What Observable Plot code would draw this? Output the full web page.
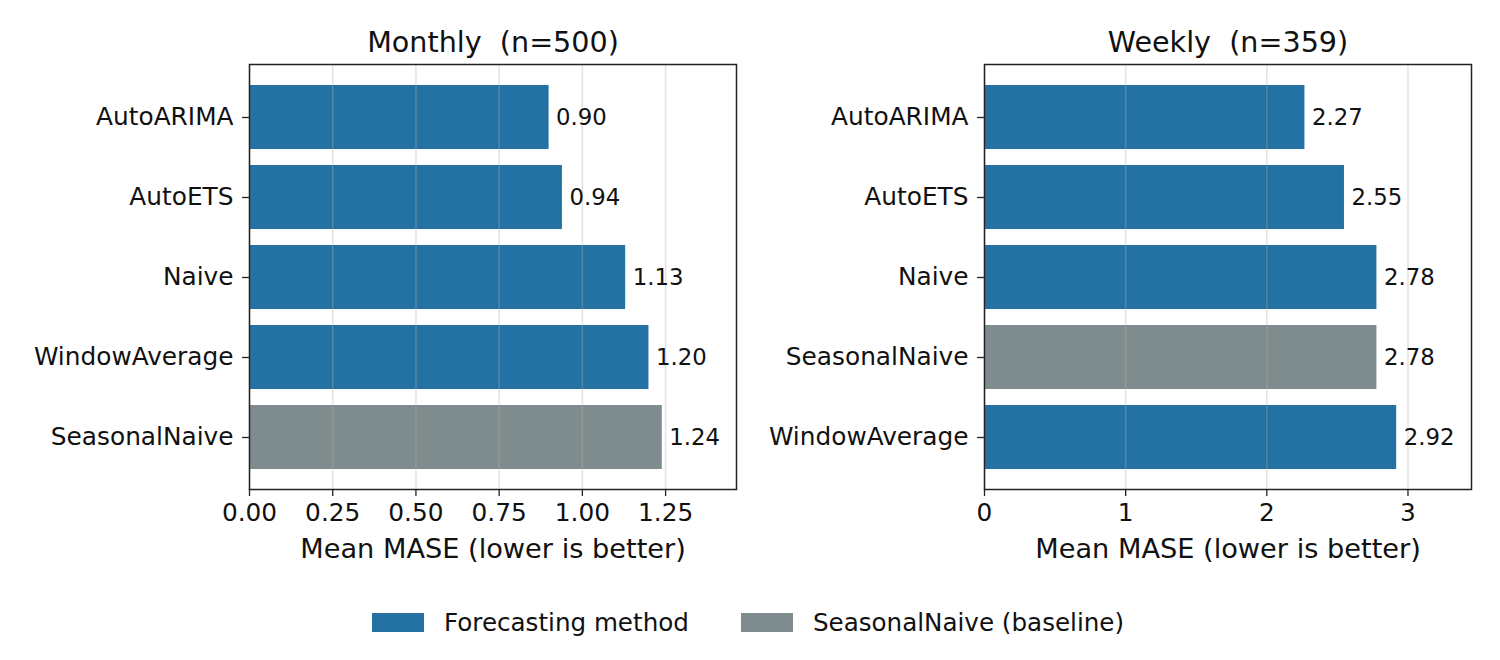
<!DOCTYPE html>
<html>
<head>
<meta charset="utf-8">
<script src="https://cdn.jsdelivr.net/npm/d3@7"></script>
<script src="https://cdn.jsdelivr.net/npm/@observablehq/plot@0.6"></script>
<style>
  html, body { margin: 0; padding: 0; background: #fff; }
  body { width: 1500px; height: 660px; position: relative; font-family: "DejaVu Sans", sans-serif; color: #111; }
  #panels { position: absolute; left: 0; top: 0; display: flex; }
  #panels svg { display: block; }
  #legend { position: absolute; left: 372px; top: 608px; display: flex; align-items: center; font-size: 24.6px; color: #111; }
  .sw { width: 52px; height: 19px; display: inline-block; }
  .item { display: flex; align-items: center; }
</style>
</head>
<body>
<div id="panels"></div>
<div id="legend"></div>
<script>
const monthlyMethods = ["AutoARIMA", "AutoETS", "Naive", "WindowAverage", "SeasonalNaive"];
const monthlyMase = [0.90, 0.94, 1.13, 1.20, 1.24];
const weeklyMethods = ["AutoARIMA", "AutoETS", "Naive", "SeasonalNaive", "WindowAverage"];
const weeklyMase = [2.27, 2.55, 2.78, 2.78, 2.92];
const monthlyTicks = [0, 0.25, 0.5, 0.75, 1.0, 1.25];
const weeklyTicks = [0, 1, 2, 3];
const baseline = "SeasonalNaive";
const panelTitles = ["Monthly\u00a0 (n=500)", "Weekly\u00a0 (n=359)"];
const xLabel = "Mean MASE (lower is better)";
const legendLabels = ["Forecasting method", "SeasonalNaive (baseline)"];
const colors = ["#2471a3", "#7f8c8d"];
const xMax = [1.463, 3.45];

function panel(methods, values, ticks, tickFmt, title, xmax, marginLeft, marginRight) {
  const data = methods.map((m, i) => ({method: m, value: values[i], kind: m === baseline ? legendLabels[1] : legendLabels[0]}));
  return Plot.plot({
    width: 750,
    height: 580,
    marginLeft,
    marginRight,
    marginTop: 64,
    marginBottom: 91,
    style: {fontFamily: "DejaVu Sans, sans-serif", color: "#111", background: "#fff"},
    x: {domain: [0, xmax]},
    y: {domain: methods, paddingInner: 0.2, paddingOuter: 0.23},
    color: {domain: legendLabels, range: colors},
    marks: [
      Plot.barX(data, {x: "value", y: "method", fill: "kind"}),
      Plot.ruleX(ticks, {stroke: "#b0b0b0", strokeOpacity: 0.35, strokeWidth: 1.5}),
      Plot.text(data, {x: "value", y: "method", text: d => d3.format(".2f")(d.value), textAnchor: "start", dx: 7, fontSize: 22.8, fill: "#111"}),
      Plot.frame({stroke: "#222", strokeWidth: 1.5}),
      Plot.axisY({tickSize: 7, tickPadding: 9, fontSize: 24.8, label: null, stroke: "#222", strokeWidth: 1.3}),
      Plot.axisX({ticks, tickFormat: tickFmt, tickSize: 7, tickPadding: 7, fontSize: 24.8, label: null, stroke: "#222", strokeWidth: 1.3}),
      Plot.text([xLabel], {frameAnchor: "bottom", dy: 60, fontSize: 27.2, lineAnchor: "middle", fill: "#111"}),
      Plot.text([title], {frameAnchor: "top", dy: -22, fontSize: 28.6, lineAnchor: "middle", fill: "#111"})
    ]
  });
}

const panels = document.getElementById("panels");
panels.appendChild(panel(monthlyMethods, monthlyMase, monthlyTicks, d3.format(".2f"), panelTitles[0], xMax[0], 249, 14));
panels.appendChild(panel(weeklyMethods, weeklyMase, weeklyTicks, d3.format("d"), panelTitles[1], xMax[1], 234, 29));

const legend = document.getElementById("legend");
legendLabels.forEach((lab, i) => {
  const item = document.createElement("div");
  item.className = "item";
  item.style.marginRight = i === 0 ? "52px" : "0";
  const sw = document.createElement("span");
  sw.className = "sw";
  sw.style.background = colors[i];
  sw.style.marginRight = "20px";
  const t = document.createElement("span");
  t.textContent = lab;
  item.appendChild(sw);
  item.appendChild(t);
  legend.appendChild(item);
});
</script>
</body>
</html>
